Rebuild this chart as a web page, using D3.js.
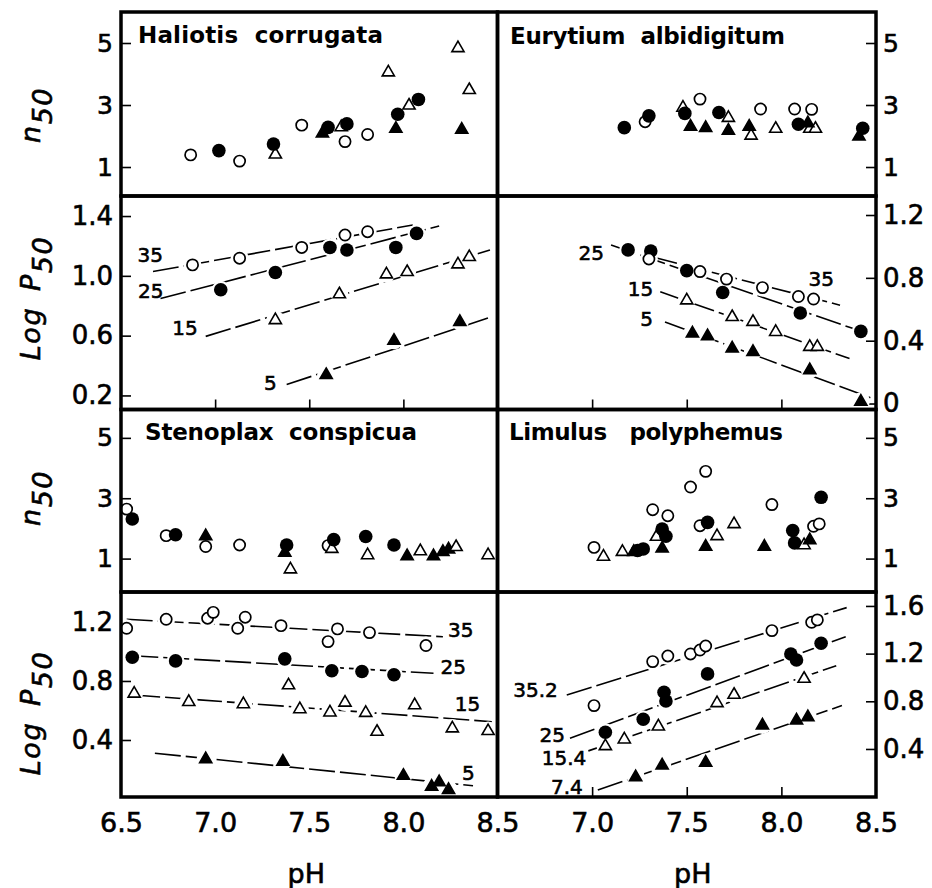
<!DOCTYPE html>
<html>
<head>
<meta charset="utf-8">
<script src="https://cdn.jsdelivr.net/npm/d3@7"></script>
<style>
  body { margin: 0; background: #fff; }
  svg { display: block; }
  text { font-family: "DejaVu Sans", sans-serif; fill: #000; }
  .heavy { stroke: #000; stroke-width: 0.6px; }
</style>
</head>
<body>
<div id="chart"></div>
<script>
// points are [pH, value, temperature]
const haliotisN50 = [
  [6.87, 1.39, 35], [7.02, 1.53, 25], [7.13, 1.19, 35], [7.32, 1.42, 15], [7.31, 1.74, 25],
  [7.46, 2.35, 35], [7.57, 2.10, 5], [7.60, 2.28, 25], [7.67, 2.30, 15], [7.70, 2.39, 25],
  [7.69, 1.82, 35], [7.81, 2.05, 35], [7.92, 4.07, 15], [7.96, 2.25, 5], [7.97, 2.70, 25],
  [8.03, 3.00, 15], [8.08, 3.18, 25], [8.29, 4.85, 15], [8.35, 3.50, 15], [8.31, 2.22, 5]
];
const eurytiumN50 = [
  [7.17, 2.27, 25], [7.28, 2.46, 35], [7.30, 2.65, 25], [7.48, 2.93, 15], [7.49, 2.73, 25],
  [7.57, 3.19, 35], [7.52, 2.32, 5], [7.60, 2.28, 5], [7.72, 2.60, 15], [7.67, 2.76, 25],
  [7.72, 2.19, 5], [7.84, 2.03, 15], [7.83, 2.32, 5], [7.89, 2.87, 35], [7.97, 2.25, 15],
  [8.07, 2.87, 35], [8.09, 2.38, 25], [8.16, 2.86, 35], [8.15, 2.25, 15], [8.18, 2.25, 15],
  [8.14, 2.43, 5], [8.41, 2.00, 5], [8.43, 2.25, 25]
];
const stenoplaxN50 = [
  [6.53, 2.64, 35], [6.56, 2.31, 25], [6.74, 1.76, 35], [6.79, 1.79, 25], [6.95, 1.40, 35],
  [6.95, 1.76, 5], [7.13, 1.45, 35], [7.37, 1.21, 5], [7.38, 1.45, 25], [7.40, 0.66, 15],
  [7.60, 1.43, 35], [7.62, 1.34, 15], [7.63, 1.63, 25], [7.80, 1.73, 25], [7.81, 1.13, 15],
  [7.95, 1.45, 25], [8.02, 1.10, 5], [8.09, 1.26, 15], [8.16, 1.10, 5], [8.21, 1.24, 5],
  [8.24, 1.32, 5], [8.28, 1.40, 15], [8.45, 1.13, 15]
];
const limulusN50 = [
  [7.01, 1.37, 35.2], [7.06, 1.08, 15.4], [7.16, 1.24, 15.4], [7.22, 1.24, 7.4], [7.24, 1.27, 25],
  [7.27, 1.32, 25], [7.32, 2.62, 35.2], [7.40, 2.42, 35.2], [7.34, 1.74, 15.4], [7.37, 1.35, 7.4],
  [7.37, 1.98, 25], [7.39, 1.74, 25], [7.52, 3.37, 35.2], [7.60, 3.89, 35.2], [7.57, 2.09, 35.2],
  [7.61, 2.20, 25], [7.60, 1.41, 7.4], [7.66, 1.76, 15.4], [7.75, 2.16, 15.4], [7.91, 1.41, 7.4],
  [7.95, 2.79, 35.2], [8.06, 1.93, 25], [8.07, 1.52, 25], [8.12, 1.46, 15.4], [8.15, 1.63, 7.4],
  [8.17, 2.07, 35.2], [8.20, 2.15, 35.2], [8.21, 3.03, 25]
];

const haliotisLogP = [
  [6.88, 1.073, 35], [7.13, 1.118, 35], [7.46, 1.19, 35], [7.69, 1.273, 35], [7.81, 1.295, 35],
  [7.03, 0.907, 25], [7.32, 1.022, 25], [7.61, 1.19, 25], [7.70, 1.173, 25], [7.96, 1.19, 25], [8.07, 1.284, 25],
  [7.32, 0.707, 15], [7.66, 0.88, 15], [7.91, 1.013, 15], [8.02, 1.029, 15], [8.29, 1.08, 15], [8.35, 1.129, 15],
  [7.59, 0.34, 5], [7.95, 0.569, 5], [8.30, 0.695, 5]
];
const eurytiumLogP = [
  [7.19, 0.978, 25], [7.31, 0.971, 25], [7.50, 0.846, 25], [7.69, 0.707, 25], [8.10, 0.576, 25], [8.42, 0.459, 25],
  [7.30, 0.92, 35], [7.57, 0.84, 35], [7.71, 0.792, 35], [7.90, 0.738, 35], [8.09, 0.681, 35], [8.17, 0.665, 35],
  [7.50, 0.66, 15], [7.74, 0.554, 15], [7.85, 0.523, 15], [7.97, 0.459, 15], [8.15, 0.364, 15], [8.19, 0.364, 15],
  [7.53, 0.449, 5], [7.61, 0.432, 5], [7.74, 0.354, 5], [7.85, 0.332, 5], [8.15, 0.216, 5], [8.42, 0.015, 5]
];
const stenoplaxLogP = [
  [6.53, 1.157, 35], [6.74, 1.218, 35], [6.96, 1.225, 35], [6.99, 1.265, 35], [7.12, 1.157, 35], [7.16, 1.232, 35],
  [7.35, 1.175, 35], [7.60, 1.067, 35], [7.65, 1.153, 35], [7.82, 1.128, 35], [8.12, 1.04, 35],
  [6.56, 0.961, 25], [6.79, 0.936, 25], [7.37, 0.95, 25], [7.62, 0.869, 25], [7.78, 0.864, 25], [7.95, 0.842, 25],
  [6.57, 0.718, 15], [6.86, 0.661, 15], [7.15, 0.646, 15], [7.39, 0.774, 15], [7.45, 0.612, 15], [7.61, 0.59, 15],
  [7.69, 0.657, 15], [7.80, 0.587, 15], [7.86, 0.459, 15], [8.06, 0.639, 15], [8.26, 0.482, 15], [8.45, 0.464, 15],
  [6.95, 0.274, 5], [7.36, 0.256, 5], [8.00, 0.161, 5], [8.15, 0.087, 5], [8.19, 0.117, 5], [8.24, 0.065, 5]
];
const limulusLogP = [
  [7.01, 0.764, 35.2], [7.32, 1.133, 35.2], [7.40, 1.18, 35.2], [7.52, 1.197, 35.2], [7.57, 1.23, 35.2],
  [7.60, 1.264, 35.2], [7.95, 1.393, 35.2], [8.16, 1.463, 35.2], [8.19, 1.483, 35.2],
  [7.07, 0.54, 25], [7.27, 0.649, 25], [7.38, 0.876, 25], [7.39, 0.803, 25], [7.61, 1.03, 25],
  [8.05, 1.197, 25], [8.08, 1.147, 25], [8.21, 1.287, 25],
  [7.07, 0.428, 15.4], [7.17, 0.484, 15.4], [7.35, 0.593, 15.4], [7.66, 0.789, 15.4], [7.75, 0.859, 15.4], [8.12, 0.993, 15.4],
  [7.23, 0.168, 7.4], [7.37, 0.266, 7.4], [7.60, 0.289, 7.4], [7.90, 0.602, 7.4], [8.08, 0.644, 7.4], [8.14, 0.671, 7.4]
];

// regression lines: [label, pH start, value start, pH end, value end]
const haliotisLines = [
  ["35", 6.67, 1.029, 8.05, 1.34], ["25", 6.71, 0.848, 8.19, 1.333],
  ["15", 6.95, 0.595, 8.46, 1.173], ["5", 7.38, 0.273, 8.45, 0.718]
];
const eurytiumLines = [
  ["25", 7.10, 1.009, 8.38, 0.477], ["35", 7.315, 0.934, 8.31, 0.626],
  ["15", 7.36, 0.711, 8.36, 0.286], ["5", 7.385, 0.519, 8.47, 0.037]
];
const stenoplaxLines = [
  ["35", 6.53, 1.218, 8.21, 1.10], ["25", 6.56, 0.971, 8.16, 0.852],
  ["15", 6.57, 0.705, 8.47, 0.524], ["5", 6.68, 0.31, 8.37, 0.09]
];
const limulusLines = [
  ["35.2", 6.866, 0.853, 8.345, 1.586], ["25", 6.883, 0.49, 8.34, 1.342],
  ["15.4", 6.98, 0.384, 8.29, 1.099], ["7.4", 7.03, 0.056, 8.32, 0.764]
];

const n50Ticks = [1, 3, 5];
const xTicksLeft = [6.5, 7.0, 7.5, 8.0, 8.5];
const xTicksRight = [7.0, 7.5, 8.0, 8.5];

const width = 932, height = 888;
const colX = [[121, 497.5], [497.5, 876]];
const rowY = [[12, 196], [196, 409.5], [409.5, 592], [592, 797]];

const svg = d3.select("#chart").append("svg")
  .attr("width", width)
  .attr("height", height);

const panels = [
  { col: 0, row: 0, title: "Haliotis  corrugata", tx: 138, tw: 245, ty: 43,
    pts: haliotisN50, dom: [0.065, 6.0], ticks: n50Ticks, fmt: d3.format("d"), size: 25 },
  { col: 1, row: 0, title: "Eurytium  albidigitum", tx: 510, tw: 275, ty: 44,
    pts: eurytiumN50, dom: [0.065, 6.0], ticks: n50Ticks, fmt: d3.format("d"), size: 25 },
  { col: 0, row: 1, pts: haliotisLogP, lines: haliotisLines,
    dom: [0.106, 1.534], ticks: [0.2, 0.6, 1.0, 1.4], fmt: d3.format(".1f"), size: 26, xTicks: true,
    lab: { at: "start", anchor: "end", off: [[10, -17], [3, -8], [-8, -9], [-10, -2]] } },
  { col: 1, row: 1, pts: eurytiumLogP, lines: eurytiumLines,
    dom: [-0.038, 1.321], ticks: [0, 0.4, 0.8, 1.2], fmt: v => v === 0 ? "0" : d3.format(".1f")(v), size: 26, xTicks: true,
    lab: { at: "start", anchor: "end", off: [[-7, 8], [null], [-7, -3], [-12, -3]] } },
  { col: 0, row: 2, title: "Stenoplax  conspicua", tx: 145, tw: 272, ty: 440,
    pts: stenoplaxN50, dom: [-0.107, 5.94], ticks: n50Ticks, fmt: d3.format("d"), size: 25 },
  { col: 1, row: 2, title: "Limulus   polyphemus", tx: 509, tw: 274, ty: 440,
    pts: limulusN50, dom: [-0.107, 5.94], ticks: n50Ticks, fmt: d3.format("d"), size: 25 },
  { col: 0, row: 3, pts: stenoplaxLogP, lines: stenoplaxLines,
    dom: [0.0136, 1.403], ticks: [0.4, 0.8, 1.2], fmt: d3.format(".1f"), size: 26, bottom: xTicksLeft, bottomTick: 0,
    lab: { at: "end", anchor: "start", off: [[5, -7], [7, -6], [-37, -18], [-11, -13]] } },
  { col: 1, row: 3, pts: limulusLogP, lines: limulusLines,
    dom: [-0.003, 1.717], ticks: [0.4, 0.8, 1.2, 1.6], fmt: d3.format(".1f"), size: 26, bottom: xTicksRight, bottomTick: 10,
    lab: { at: "start", anchor: "end", off: [[-9, -5], [-5, -3], [-2, 7], [-15, -3]] } }
];

const tri = d3.symbol().type(d3.symbolTriangle).size(64)();

function kindOf(t) {
  return t > 30 ? 0 : t > 20 ? 1 : t > 10 ? 2 : 3;
}

function drawMarker(g, x, y, t) {
  const k = kindOf(t);
  if (k < 2) {
    g.append("circle")
      .attr("cx", x).attr("cy", y)
      .attr("r", k === 0 ? 5.6 : 6.8)
      .attr("fill", k === 0 ? "#fff" : "#000")
      .attr("stroke", "#000")
      .attr("stroke-width", k === 0 ? 1.7 : 0);
  } else {
    g.append("path")
      .attr("d", tri)
      .attr("transform", `translate(${x},${y + 0.5})`)
      .attr("fill", k === 2 ? "#fff" : "#000")
      .attr("stroke", "#000")
      .attr("stroke-width", 1.6);
  }
}

panels.forEach(p => {
  const [x0, x1] = colX[p.col];
  const [y0, y1] = rowY[p.row];
  const x = d3.scaleLinear().domain([6.5, 8.5]).range([x0, x1]);
  const y = d3.scaleLinear().domain(p.dom).range([y1, y0]);
  const g = svg.append("g");

  // y axis, ticks pointing inward
  const yAxis = p.col === 0 ? d3.axisLeft(y).tickPadding(8) : d3.axisRight(y).tickPadding(7);
  yAxis.tickValues(p.ticks).tickFormat(p.fmt).tickSizeInner(-10).tickSizeOuter(0);
  g.append("g")
    .attr("transform", `translate(${p.col === 0 ? x0 : x1},0)`)
    .call(yAxis)
    .call(a => a.select(".domain").remove())
    .call(a => a.selectAll("line").attr("stroke", "#000").attr("stroke-width", 1.6))
    .call(a => a.selectAll("text")
      .attr("class", "heavy")
      .attr("font-size", p.size)
      .attr("font-family", "DejaVu Sans")
      .attr("fill", "#000"));

  if (p.xTicks) {
    g.append("g")
      .attr("transform", `translate(0,${y1})`)
      .call(d3.axisBottom(x).tickValues([7.0, 7.5, 8.0]).tickSizeInner(-10).tickSizeOuter(0).tickFormat(""))
      .call(a => a.select(".domain").remove())
      .call(a => a.selectAll("line").attr("stroke", "#000").attr("stroke-width", 1.6));
  }

  if (p.bottom) {
    g.append("g")
      .attr("transform", `translate(0,${y1})`)
      .call(d3.axisBottom(x).tickValues(p.bottom).tickFormat(d3.format(".1f"))
        .tickSizeInner(-p.bottomTick).tickSizeOuter(0).tickPadding(16))
      .call(a => a.select(".domain").remove())
      .call(a => a.selectAll("line").attr("stroke", "#000").attr("stroke-width", 1.6)
        .attr("display", d => (d > 6.5 && d < 8.5 && p.bottomTick) ? null : "none"))
      .call(a => a.selectAll("text")
        .attr("class", "heavy")
        .attr("font-size", 27)
        .attr("font-family", "DejaVu Sans")
        .attr("fill", "#000"));

    svg.append("text")
      .attr("class", "heavy")
      .attr("x", (x0 + x1) / 2 + (p.col === 0 ? -3 : 6))
      .attr("y", 883)
      .attr("text-anchor", "middle")
      .attr("font-size", 27)
      .text("pH");
  }

  if (p.title) {
    g.append("text")
      .attr("x", p.tx)
      .attr("y", p.ty)
      .attr("font-size", 23)
      .attr("font-weight", "bold")
      .attr("textLength", p.tw)
      .attr("lengthAdjust", "spacing")
      .style("white-space", "pre")
      .text(p.title);
  }

  if (p.lines) {
    g.selectAll("line.fit")
      .data(p.lines)
      .enter()
      .append("line")
      .attr("class", "fit")
      .attr("x1", d => x(d[1])).attr("y1", d => y(d[2]))
      .attr("x2", d => x(d[3])).attr("y2", d => y(d[4]))
      .attr("stroke", "#000")
      .attr("stroke-width", 1.6)
      .attr("stroke-dasharray", "26,5");

    // white gaps where the line passes a point
    g.selectAll("circle.halo")
      .data(p.pts)
      .enter()
      .append("circle")
      .attr("class", "halo")
      .attr("cx", d => x(d[0]))
      .attr("cy", d => y(d[1]))
      .attr("r", 9)
      .attr("fill", "#fff");

    p.lines.forEach((d, i) => {
      const off = p.lab.off[i];
      let ax, ay, anchor = p.lab.anchor;
      if (off[0] === null) {
        // label sits above the end of the line
        ax = x(d[3]) - 6; ay = y(d[4]) - 26; anchor = "end";
      } else if (p.lab.at === "start") {
        ax = x(d[1]) + off[0]; ay = y(d[2]) + off[1];
      } else {
        ax = x(d[3]) + off[0]; ay = y(d[4]) + off[1];
      }
      g.append("text")
        .attr("class", "heavy")
        .attr("x", ax)
        .attr("y", ay)
        .attr("dy", "0.36em")
        .attr("text-anchor", anchor)
        .attr("font-size", 20)
        .text(d[0]);
    });
  }

  const mg = g.append("g");
  p.pts.forEach(d => drawMarker(mg, x(d[0]), y(d[1]), d[2]));

  // axis titles on the left column
  if (p.col === 0) {
    const cy = [115, 298, 498, 713][p.row];
    const t = g.append("text")
      .attr("class", "heavy")
      .attr("transform", `translate(40,${cy}) rotate(-90)`)
      .attr("text-anchor", "middle")
      .attr("font-size", 27)
      .attr("font-style", "italic")
      .attr("letter-spacing", 1.5);
    if (p.row % 2 === 0) {
      t.append("tspan").text("n");
      t.append("tspan").attr("dy", "0.45em").text("50");
    } else {
      t.append("tspan").text("Log");
      t.append("tspan").attr("dx", 16).text("P");
      t.append("tspan").attr("dy", "0.45em").text("50");
    }
  }
});

// frames
const frame = svg.append("g");
rowY.forEach(r => colX.forEach(c => {
  frame.append("rect")
    .attr("x", c[0]).attr("y", r[0])
    .attr("width", c[1] - c[0]).attr("height", r[1] - r[0])
    .attr("fill", "none")
    .attr("stroke", "#000")
    .attr("stroke-width", 3.5);
}));
</script>
</body>
</html>
